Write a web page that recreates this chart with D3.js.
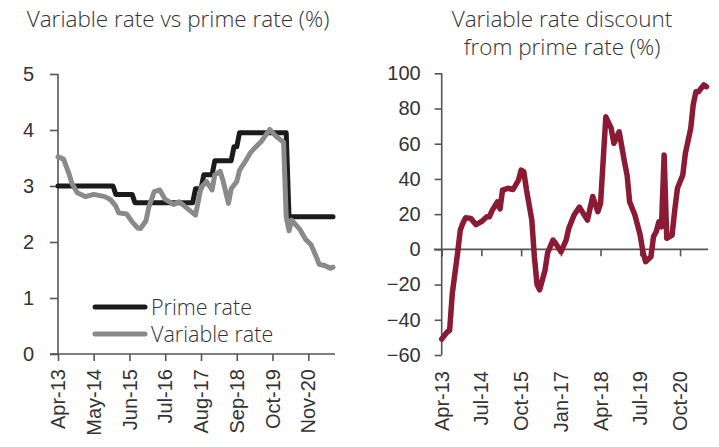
<!DOCTYPE html>
<html>
<head>
<meta charset="utf-8">
<script src="https://cdn.jsdelivr.net/npm/d3@7"></script>
<style>
  body { margin: 0; background: #fff; }
  svg { display: block; font-family: "Open Sans", Lato, sans-serif; font-weight: 300; }
  .axis text { fill: #333; font-size: 20px; }
</style>
</head>
<body>
<svg id="chart"></svg>
<script>
// months counted from Apr-13
const primeMonths = [0, 20, 21, 27, 28, 49, 50, 52, 53, 56, 57, 63, 64, 65, 66, 83, 84, 100];
const primeValues = [3.0, 3.0, 2.85, 2.85, 2.7, 2.7, 2.95, 2.95, 3.2, 3.2, 3.45, 3.45, 3.7, 3.7, 3.95, 3.95, 2.45, 2.45];

const variableMonths = [0, 2, 4, 5, 7, 10, 13, 17, 19, 21, 22, 25, 27, 29, 30, 32, 33, 35, 37, 39, 42, 44, 47, 50,
  51, 52, 54, 56, 57, 59, 60, 62, 63, 65, 66, 68, 70, 72, 74, 76, 77, 79, 80, 82, 83, 84, 85, 88, 90, 92, 94, 95, 97, 99, 100];
const variableValues = [3.52, 3.48, 3.22, 3.05, 2.88, 2.81, 2.85, 2.81, 2.76, 2.64, 2.52, 2.5, 2.36, 2.25, 2.24, 2.38, 2.62, 2.9, 2.93, 2.76, 2.67, 2.72, 2.6, 2.48,
  2.72, 2.97, 3.08, 2.93, 3.2, 3.26, 3.1, 2.69, 2.95, 3.08, 3.28, 3.43, 3.6, 3.7, 3.8, 3.94, 4.01, 3.9, 3.86, 3.78, 2.45, 2.2, 2.39, 2.22, 2.05, 1.95, 1.72, 1.6, 1.58, 1.53, 1.55];

const discountMonths = [0, 2, 3, 4, 6, 7, 8, 9, 11, 13, 15, 17, 18, 19, 21, 22, 23, 25, 27, 29, 30, 31, 32, 34, 35, 36, 37, 39, 40, 42, 43, 45, 47, 48, 50,
  52, 55, 57, 59, 60, 62, 64, 65, 67, 69, 70, 71, 73, 75, 76, 77, 79, 80, 81, 82, 83, 84, 85, 87, 88, 89, 91, 92, 94, 95, 96, 97, 98, 99, 100];
const discountValues = [-51, -47, -46, -25, -2, 11, 15, 18, 17.6, 14, 15.7, 18.5, 18.5, 22, 27, 23, 33.7, 34.7, 34, 39.4, 45, 44, 34, 16.6, -4, -20, -23, -12, -2, 5.3, 3.4, -1.4, 5.3, 12, 19.5,
  24, 16.6, 30, 21.4, 26, 75.3, 68.8, 60.2, 66.8, 49.8, 42, 27, 19.5, 8, -1.4, -7, -4.2, 7.2, 10, 15.7, 12.8, 53.6, 6.3, 8.1, 22.3, 34.7, 42.2, 54.5, 68.8, 82, 89.5, 89.5, 91.5, 93.4, 92.4];

const leftTicks = ["Apr-13", "May-14", "Jun-15", "Jul-16", "Aug-17", "Sep-18", "Oct-19", "Nov-20"];
const rightTicks = ["Apr-13", "Jul-14", "Oct-15", "Jan-17", "Apr-18", "Jul-19", "Oct-20"];
const leftYTicks = [0, 1, 2, 3, 4, 5];
const rightYTicks = [-60, -40, -20, 0, 20, 40, 60, 80, 100];

const legendNames = ["Prime rate", "Variable rate"];

const start = new Date(2013, 3, 1);
const parseMonth = d3.timeParse("%b-%y");
const toDate = (m) => d3.timeMonth.offset(start, m);
const end = toDate(100);

const w = 719;
const h = 447;
const svg = d3.select("#chart").attr("width", w).attr("height", h);

const axisColor = "#555";
const textColor = "#333";

function styleAxis(g) {
  g.selectAll("path, line").attr("stroke", axisColor).attr("stroke-width", 1.6);
}

// ---------- left chart ----------
const xL = d3.scaleTime().domain([start, end]).range([58, 333]);
const yL = d3.scaleLinear().domain([0, 5]).range([354, 74]);

svg.append("text")
  .attr("x", 178).attr("y", 27)
  .attr("text-anchor", "middle")
  .attr("font-size", 22.5)
  .attr("fill", textColor)
  .text("Variable rate vs prime rate (%)");

svg.append("g")
  .attr("class", "axis")
  .attr("transform", "translate(58,0)")
  .call(d3.axisLeft(yL).tickValues(leftYTicks).tickFormat(d3.format("d")).tickSize(8).tickSizeOuter(0).tickPadding(16))
  .call(styleAxis)
  .call((g) => g.select(".domain").attr("d", `M0,${yL(0)}V${yL(5)}`));

const xAxisL = svg.append("g")
  .attr("class", "axis")
  .attr("transform", `translate(0,${yL(0)})`)
  .call(d3.axisBottom(xL).tickValues(leftTicks.map(parseMonth)).tickFormat(d3.timeFormat("%b-%y")).tickSize(7).tickSizeOuter(0))
  .call(styleAxis)
  .call((g) => g.select(".domain").attr("d", "M50,0H335"));
xAxisL.selectAll("text")
  .attr("transform", "rotate(-90)")
  .attr("text-anchor", "end")
  .attr("x", -15).attr("y", 0).attr("dy", "0.33em");

const lineL = (months, values) => d3.line()
  .x((d, i) => xL(toDate(months[i])))
  .y((d) => yL(d))(values);

svg.append("path")
  .attr("d", lineL(primeMonths, primeValues))
  .attr("fill", "none").attr("stroke", "#1b1b1b").attr("stroke-width", 5)
  .attr("stroke-linejoin", "round").attr("stroke-linecap", "round");

svg.append("path")
  .attr("d", lineL(variableMonths, variableValues))
  .attr("fill", "none").attr("stroke", "#8a8a8a").attr("stroke-width", 5)
  .attr("stroke-linejoin", "round").attr("stroke-linecap", "round");

// legend
const legendColors = ["#1b1b1b", "#8a8a8a"];
const legend = svg.append("g");
legendNames.forEach((name, i) => {
  const y = 307 + i * 27;
  legend.append("line")
    .attr("x1", 95).attr("x2", 145).attr("y1", y).attr("y2", y)
    .attr("stroke", legendColors[i]).attr("stroke-width", 5).attr("stroke-linecap", "round");
  legend.append("text")
    .attr("x", 151).attr("y", y).attr("dy", "0.35em")
    .attr("font-size", 21.5).attr("fill", textColor)
    .text(name);
});

// ---------- right chart ----------
const xR = d3.scaleTime().domain([start, end]).range([441.7, 706.5]);
const yR = d3.scaleLinear().domain([-60, 100]).range([355, 73.3]);

const titleR = svg.append("text")
  .attr("text-anchor", "middle")
  .attr("font-size", 22.5)
  .attr("fill", textColor);
titleR.append("tspan").attr("x", 562).attr("y", 27).text("Variable rate discount");
titleR.append("tspan").attr("x", 562).attr("y", 55).text("from prime rate (%)");

svg.append("g")
  .attr("class", "axis")
  .attr("transform", "translate(441.7,0)")
  .call(d3.axisLeft(yR).tickValues(rightYTicks).tickSize(7).tickSizeOuter(0).tickPadding(14))
  .call(styleAxis)
  .call((g) => g.select(".domain").attr("d", `M0,${yR(-60)}V${yR(100)}`));

svg.append("g")
  .attr("transform", `translate(0,${yR(0)})`)
  .call(d3.axisBottom(xR).tickValues(rightTicks.map(parseMonth)).tickFormat("").tickSize(7).tickSizeOuter(0))
  .call(styleAxis)
  .call((g) => g.select(".domain").attr("d", "M434,0H708"));

const xLabR = svg.append("g")
  .attr("class", "axis")
  .attr("transform", `translate(0,${yR(-60)})`)
  .call(d3.axisBottom(xR).tickValues(rightTicks.map(parseMonth)).tickFormat(d3.timeFormat("%b-%y")).tickSize(0));
xLabR.select(".domain").remove();
xLabR.selectAll("text")
  .attr("transform", "rotate(-90)")
  .attr("text-anchor", "end")
  .attr("x", -16).attr("y", 0).attr("dy", "0.33em");

svg.append("path")
  .attr("d", d3.line()
    .x((d, i) => xR(toDate(discountMonths[i])))
    .y((d) => yR(d))(discountValues))
  .attr("fill", "none").attr("stroke", "#8b1a35").attr("stroke-width", 5.5)
  .attr("stroke-linejoin", "round").attr("stroke-linecap", "round");
</script>
</body>
</html>
